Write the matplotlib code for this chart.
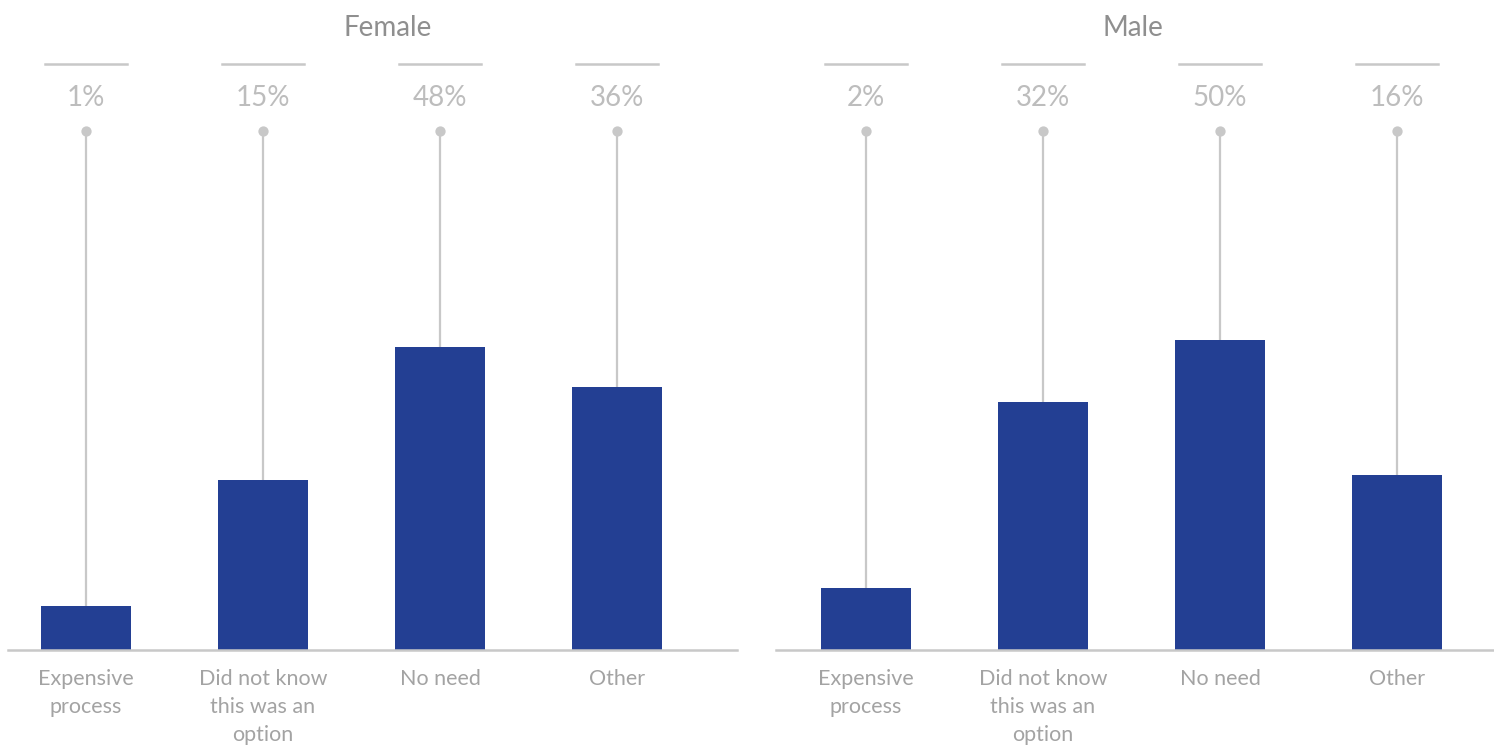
import numpy as np
import matplotlib
matplotlib.use("Agg")
import matplotlib.pyplot as plt
from matplotlib.transforms import blended_transform_factory

plt.rcParams['font.family'] = ['Lato', 'DejaVu Sans']

# Reasons for not doing it, by gender (percent of respondents)
categories = ["Expensive\nprocess", "Did not know\nthis was an\noption", "No need", "Other"]
panel_titles = ["Female", "Male"]
female_pct = [1, 15, 48, 36]
male_pct = [2, 32, 50, 16]
pct_labels_female = ["1%", "15%", "48%", "36%"]
pct_labels_male = ["2%", "32%", "50%", "16%"]

BAR = "#233F93"
RULE = "#C8C8C8"
PCT_TXT = "#BDBDBD"
CAT_TXT = "#A3A3A3"
TITLE_TXT = "#8F8F8F"

W, H = 1494, 747
fig = plt.figure(figsize=(W / 100, H / 100), dpi=100)

base_y = 650      # baseline, px from top
top_y = 131       # marker row, px from top
k = 43.8          # px per sqrt(percent)
ymax = ((base_y - top_y) / k) ** 2

panels = [
    dict(left=8, right=737, first=86, step=177, values=female_pct, labels=pct_labels_female, title=panel_titles[0], title_x=388),
    dict(left=776, right=1494, first=866, step=177, values=male_pct, labels=pct_labels_male, title=panel_titles[1], title_x=1133),
]

for p in panels:
    ax = fig.add_axes([p["left"] / W, 1 - base_y / H, (p["right"] - p["left"]) / W, (base_y - top_y) / H])
    ax.set_yscale("function", functions=(np.sqrt, np.square))
    x = np.arange(len(categories))
    ax.set_xlim(-(p["first"] - p["left"]) / p["step"], (p["right"] - p["first"]) / p["step"])
    ax.set_ylim(0, ymax)

    tr = blended_transform_factory(ax.transData, ax.transAxes)
    # stems from marker row down to the bar top
    for xi, v in zip(x, p["values"]):
        ax.plot([xi, xi], [v, ymax], color=RULE, lw=1.6, zorder=1, solid_capstyle="butt")
    ax.scatter(x, [ymax] * len(x), s=55, color=RULE, zorder=3, clip_on=False, linewidths=0)
    ax.bar(x, p["values"], width=0.51, color=BAR, zorder=2)

    # short rules and percentage labels above the markers
    rule_y = 1 + (top_y - 64) / (base_y - top_y)
    lab_y = 1 + (top_y - 98) / (base_y - top_y)
    for xi, lab in zip(x, p["labels"]):
        ax.plot([xi - 0.23, xi + 0.23], [rule_y, rule_y], transform=tr, color=RULE, lw=1.8, clip_on=False)
        ax.text(xi, lab_y, lab, transform=tr, ha="center", va="center", fontsize=20, color=PCT_TXT)

    fig.text(p["title_x"] / W, 1 - 28 / H, p["title"], ha="center", va="center", fontsize=20, color=TITLE_TXT)

    for s in ["top", "left", "right"]:
        ax.spines[s].set_visible(False)
    ax.spines["bottom"].set_color(RULE)
    ax.spines["bottom"].set_linewidth(1.8)
    ax.set_yticks([])
    ax.yaxis.set_minor_locator(matplotlib.ticker.NullLocator())
    ax.set_xticks(x)
    ax.set_xticklabels(categories, fontsize=15.5, color=CAT_TXT, linespacing=1.5, va="top")
    ax.tick_params(axis="x", length=0, pad=14)

fig.savefig("out.png", dpi=100)
